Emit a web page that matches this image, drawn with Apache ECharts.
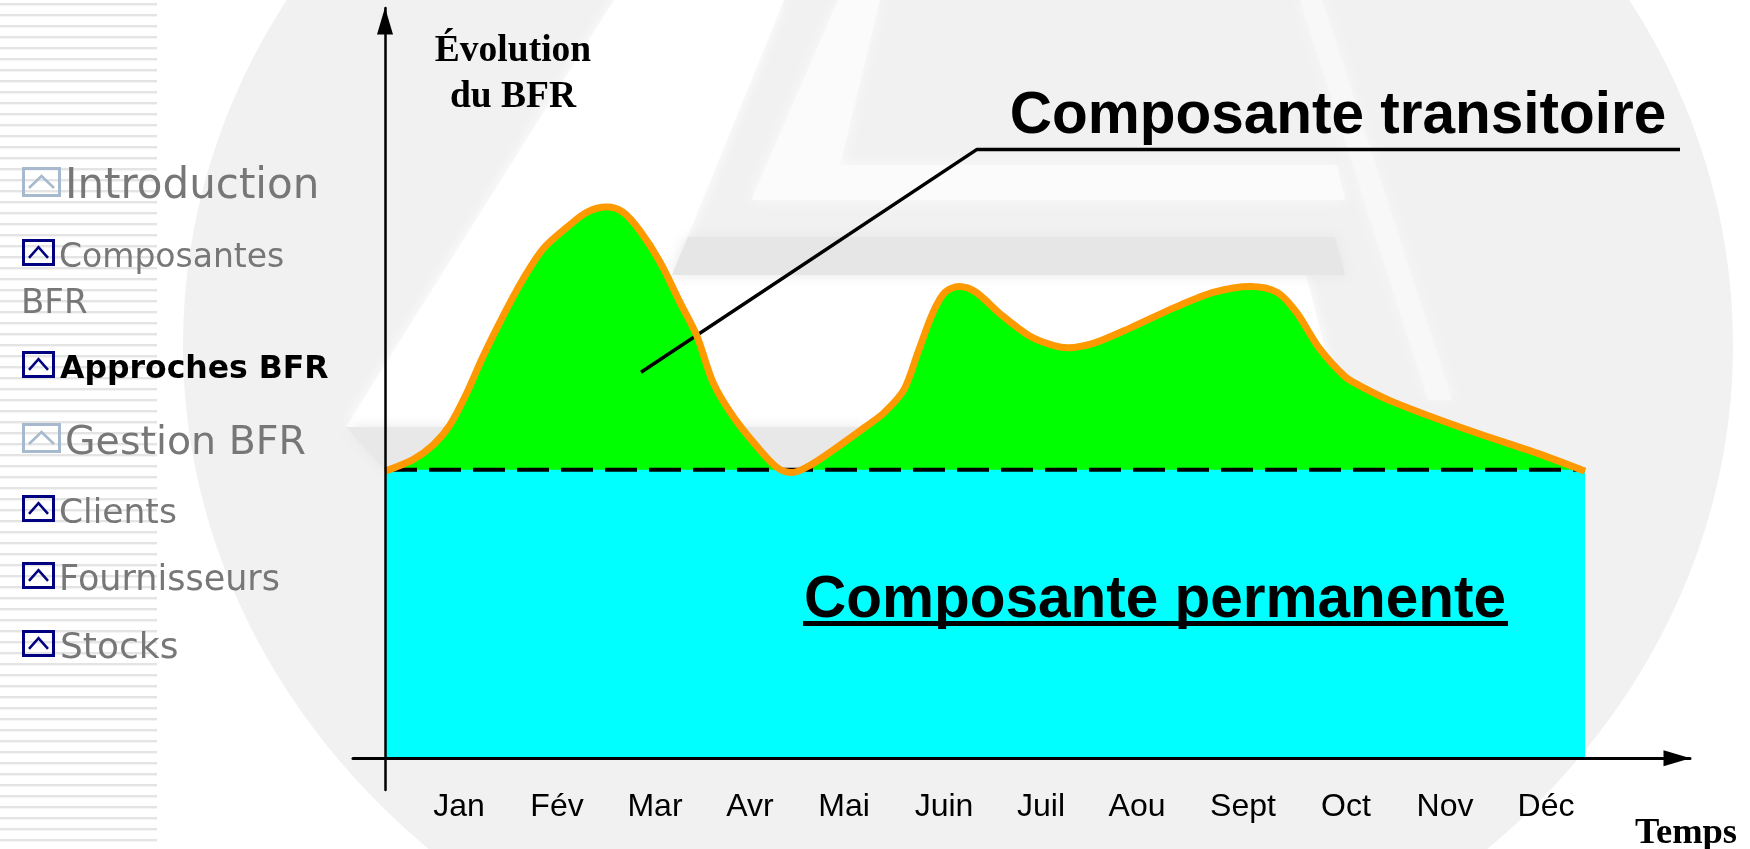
<!DOCTYPE html>
<html>
<head>
	<title>Évolution du BFR</title>
	<meta charset="utf-8"/>
	<style type="text/css">
		html,body{
			margin: 0;
			padding: 0;
			height: 100%;
			overflow: hidden;
			background: #ffffff;
		}
		#stripes{
			position: absolute;
			left: 0;
			top: 0;
			width: 157px;
			height: 849px;
			background: repeating-linear-gradient(to bottom, #ffffff 0px, #ffffff 3px, #e4e4e4 3px, #e4e4e4 5px, #f4f4f4 5px, #f4f4f4 6px, #ffffff 6px, #ffffff 11px);
		}
		#chart{
			position: absolute;
			left: 0;
			top: 0;
			width: 1750px;
			height: 849px;
		}
	</style>
</head>
<body>
	<div id="stripes"></div>
	<div id="chart"></div>

	<script src="https://cdn.jsdelivr.net/npm/echarts@6/dist/echarts.min.js"></script>
	<script type="text/javascript">

		// x in months from the axis, y in BFR index
		var months = ['Jan','Fév','Mar','Avr','Mai','Juin','Juil','Aou','Sept','Oct','Nov','Déc'];
		var monthTicks = [0.74,1.72,2.70,3.65,4.59,5.59,6.56,7.52,8.58,9.61,10.60,11.61];

		var bfrX = [0,0.28,0.48,0.65,0.82,0.98,1.18,1.38,1.58,1.82,2.02,2.22,2.38,2.55,2.75,2.95,3.12,3.28,3.48,3.72,3.92,4.07,4.25,4.52,4.80,4.99,5.19,5.33,5.48,5.60,5.74,5.91,6.16,6.45,6.69,6.83,7.08,7.46,7.90,8.29,8.65,8.92,9.11,9.35,9.60,9.74,10.08,10.81,11.54,12];
		var bfrY = [39.8,41.4,43.4,46.2,50.7,55.7,61.3,66.4,70.6,73.6,75.7,76.4,75.7,73.1,68.8,63.2,58.5,52.1,47.4,43.2,40.3,39.6,40.6,43.1,45.9,47.9,51.1,56.3,61.8,64.6,65.4,64.6,61.5,58.5,57.2,56.9,57.5,59.7,62.5,64.6,65.4,64.6,61.9,56.7,52.9,51.7,49.4,45.6,42.2,39.8];

		var permanentX = [0,12];
		var permanentY = [40,40];

		var leaderX = [2.56,5.92,12.95];
		var leaderY = [53.5,84.4,84.4];

		var navLabels = ['Introduction','Composantes','BFR','Approches BFR','Gestion BFR','Clients','Fournisseurs','Stocks'];

		function pairs(xs,ys){
			return xs.map(function(x,i){ return [x,ys[i]]; });
		}

		// sidebar rows, same order as navLabels
		var navRows = [
			{x:65,y:187,size:42,iconY:167,icon:'light'},
			{x:59,y:258,size:33,iconY:239,icon:'dark'},
			{x:21,y:304,size:34},
			{x:60,y:370,size:31.5,iconY:351,icon:'dark',bold:true},
			{x:65,y:444,size:39.5,iconY:423,icon:'light'},
			{x:59,y:514,size:34.5,iconY:495,icon:'dark'},
			{x:59,y:581,size:35,iconY:562,icon:'dark'},
			{x:60,y:649,size:36,iconY:630,icon:'dark'}
		];

		var elements = [];

		// watermark behind the chart
		function shade(points,color){
			elements.push({type:'polygon',z:-9,silent:true,shape:{points:points},style:{fill:color,shadowBlur:14,shadowColor:color}});
		}
		elements.push({type:'ellipse',z:-10,silent:true,shape:{cx:958,cy:345,rx:775,ry:690},style:{fill:'#f1f1f1'}});
		shade([[614,0],[784,0],[672,275],[1306,275],[1345,427],[346,427]],'#ffffff');
		shade([[838,0],[880,0],[840,165],[1337,165],[1345,200],[751,200]],'#fbfbfb');
		shade([[672,275],[688,237],[1335,237],[1345,275]],'#e6e6e6');
		shade([[346,427],[1345,427],[1360,470],[385,470]],'#e8e8e8');
		shade([[1300,0],[1322,0],[1452,400],[1428,400]],'#f8f8f8');

		navRows.forEach(function(row,i){
			if(row.icon){
				var light = row.icon == 'light';
				var w = light ? 39 : 33;
				var h = light ? 30 : 27;
				var color = light ? '#a6b9cd' : '#000080';
				elements.push({type:'rect',z:20,silent:true,shape:{x:23.5,y:row.iconY+1.5,width:w-3,height:h-3},style:{fill:'none',stroke:color,lineWidth:3}});
				elements.push({type:'polyline',z:20,silent:true,shape:{points:[[29,row.iconY+h*0.7],[23+w/2-1,row.iconY+h*0.3],[22+w-7,row.iconY+h*0.7]]},style:{fill:'none',stroke:color,lineWidth:2.5}});
			}
			elements.push({type:'text',z:20,silent:true,x:row.x,y:row.y,style:{
				text:navLabels[i],
				fill:row.bold ? '#000000' : '#777777',
				font:(row.bold ? 'bold ' : '')+row.size+'px "DejaVu Sans"',
				verticalAlign:'middle'
			}});
		});

		function label(text,x,y,font,align){
			elements.push({type:'text',z:20,silent:true,x:x,y:y,style:{text:text,fill:'#000000',font:font,align:align,verticalAlign:'middle'}});
		}
		label('Évolution',513,51,'bold 37.5px "Liberation Serif"','center');
		label('du BFR',513,97,'bold 37.5px "Liberation Serif"','center');
		label('Temps',1686,834,'bold 36.5px "Liberation Serif"','center');
		label('Composante transitoire',1338,117,'bold 58.5px "Liberation Sans"','center');
		label('Composante permanente',1155,601,'bold 58.5px "Liberation Sans"','center');
		elements.push({type:'rect',z:20,silent:true,shape:{x:803,y:621,width:705,height:5},style:{fill:'#000000'}});

		var chart = echarts.init(document.getElementById('chart'));

		chart.setOption({
			animation: false,
			backgroundColor: 'transparent',
			grid: {left:353,right:60,top:8,bottom:59,outerBoundsMode:'none'},
			xAxis: {
				type: 'value',
				min: -0.32,
				max: 13.05,
				splitLine: {show:false},
				axisTick: {show:false},
				axisLine: {onZero:true,symbol:['none','triangle'],symbolSize:[16,27],symbolOffset:[0,-13],lineStyle:{color:'#000000',width:3}},
				axisLabel: {
					customValues: monthTicks,
					margin: 1,
					color: '#000000',
					fontSize: 32,
					fontFamily: 'Liberation Sans',
					formatter: function(value){ return months[monthTicks.indexOf(value)]; }
				},
				z: 10
			},
			yAxis: {
				type: 'value',
				min: -4.4,
				max: 104,
				splitLine: {show:false},
				axisTick: {show:false},
				axisLabel: {show:false},
				axisLine: {onZero:true,symbol:['none','triangle'],symbolSize:[16,27],symbolOffset:[0,-13],lineStyle:{color:'#000000',width:2.5}},
				z: 10
			},
			series: [
				{
					name: 'Composante transitoire',
					type: 'line',
					z: 2,
					smooth: 0.3,
					showSymbol: false,
					lineStyle: {width:0},
					areaStyle: {color:'#00ff00',origin:0,opacity:1},
					data: pairs(bfrX,bfrY)
				},
				{
					name: 'Composante permanente',
					type: 'line',
					z: 3,
					showSymbol: false,
					lineStyle: {width:0},
					areaStyle: {color:'#00ffff',origin:0,opacity:1},
					data: pairs(permanentX,permanentY)
				},
				{
					name: 'Niveau permanent',
					type: 'line',
					z: 4,
					showSymbol: false,
					lineStyle: {color:'#000000',width:4,type:[32,12]},
					data: pairs(permanentX,permanentY)
				},
				{
					name: 'Repère',
					type: 'line',
					z: 5,
					showSymbol: false,
					lineStyle: {color:'#000000',width:3.5},
					data: pairs(leaderX,leaderY)
				},
				{
					name: 'Évolution du BFR',
					type: 'line',
					z: 6,
					smooth: 0.3,
					showSymbol: false,
					lineStyle: {color:'#ff9900',width:7},
					data: pairs(bfrX,bfrY)
				}
			],
			graphic: {elements:elements}
		});

	</script>
</body>
</html>
